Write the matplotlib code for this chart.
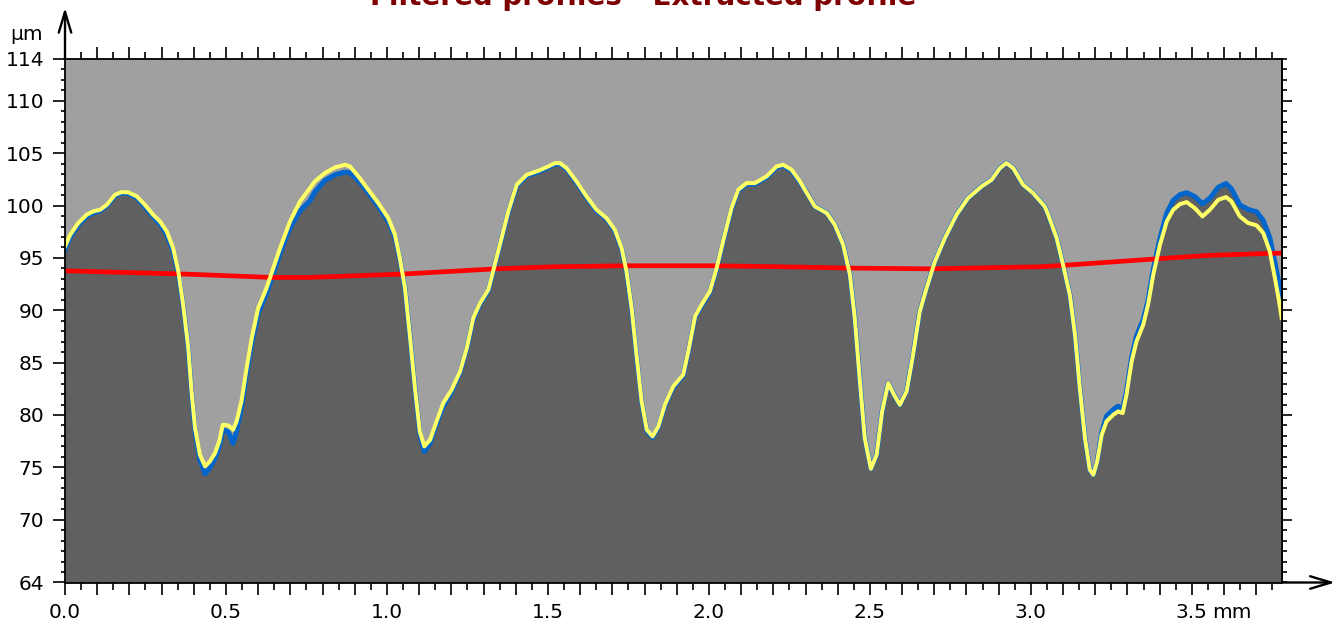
import matplotlib
matplotlib.use('Agg')
import matplotlib.pyplot as plt
from matplotlib.ticker import MultipleLocator, FixedLocator, FuncFormatter, NullFormatter

# profile positions (mm)
x_mm = [0.000, 0.016, 0.041, 0.067, 0.088, 0.109, 0.130, 0.155, 0.176, 0.197,
        0.223, 0.248, 0.274, 0.295, 0.316, 0.336, 0.352, 0.367, 0.383, 0.393,
        0.404, 0.419, 0.435, 0.450, 0.466, 0.479, 0.490, 0.507, 0.522, 0.533,
        0.548, 0.564, 0.580, 0.600, 0.626, 0.647, 0.668, 0.699, 0.730, 0.761,
        0.776, 0.807, 0.839, 0.870, 0.885, 0.911, 0.942, 0.973, 1.004, 1.025,
        1.040, 1.056, 1.071, 1.087, 1.102, 1.116, 1.134, 1.154, 1.175, 1.201,
        1.227, 1.248, 1.268, 1.289, 1.315, 1.335, 1.356, 1.377, 1.403, 1.434,
        1.470, 1.501, 1.522, 1.537, 1.558, 1.589, 1.620, 1.651, 1.682, 1.708,
        1.729, 1.744, 1.760, 1.775, 1.791, 1.807, 1.825, 1.843, 1.863, 1.889,
        1.920, 1.936, 1.957, 1.977, 2.003, 2.024, 2.044, 2.070, 2.091, 2.117,
        2.143, 2.179, 2.210, 2.231, 2.257, 2.283, 2.298, 2.329, 2.366, 2.391,
        2.417, 2.438, 2.453, 2.469, 2.484, 2.503, 2.521, 2.538, 2.557, 2.575,
        2.593, 2.614, 2.634, 2.655, 2.676, 2.702, 2.733, 2.769, 2.805, 2.847,
        2.878, 2.904, 2.924, 2.945, 2.976, 3.007, 3.043, 3.054, 3.080, 3.100,
        3.121, 3.137, 3.152, 3.168, 3.183, 3.194, 3.206, 3.220, 3.235, 3.256,
        3.271, 3.285, 3.297, 3.313, 3.328, 3.349, 3.364, 3.380, 3.401, 3.422,
        3.442, 3.463, 3.484, 3.509, 3.533, 3.556, 3.582, 3.606, 3.623, 3.649,
        3.675, 3.701, 3.722, 3.742, 3.758, 3.771, 3.779]

# extracted profile (yellow), um
extracted_um = [96.10, 97.21, 98.33, 99.12, 99.45, 99.60, 100.08, 101.03, 101.29, 101.26,
                100.88, 100.08, 99.12, 98.49, 97.54, 95.94, 93.72, 90.53, 86.39, 82.25,
                78.75, 76.20, 75.09, 75.57, 76.36, 77.48, 79.06, 79.01, 78.59, 79.39,
                81.30, 84.48, 87.34, 90.21, 92.12, 94.03, 95.94, 98.49, 100.40, 101.67,
                102.31, 103.10, 103.65, 103.90, 103.74, 102.79, 101.51, 100.24, 98.81, 97.21,
                94.99, 92.12, 87.66, 82.57, 78.43, 77.00, 77.63, 79.39, 81.14, 82.41,
                84.16, 86.39, 89.26, 90.69, 91.96, 94.35, 96.90, 99.45, 101.99, 102.94,
                103.32, 103.74, 104.06, 104.06, 103.58, 102.31, 100.88, 99.60, 98.81, 97.69,
                95.94, 93.72, 90.21, 85.75, 81.30, 78.59, 77.96, 78.91, 80.97, 82.73,
                83.84, 86.07, 89.42, 90.53, 91.81, 94.03, 96.58, 99.76, 101.51, 102.15,
                102.15, 102.79, 103.74, 103.90, 103.42, 102.31, 101.51, 99.92, 99.28, 98.17,
                96.26, 93.39, 89.26, 83.21, 77.79, 74.86, 76.20, 80.34, 83.05, 81.93,
                80.97, 82.25, 85.75, 89.89, 92.12, 94.67, 96.90, 99.12, 100.72, 101.83,
                102.46, 103.58, 104.06, 103.58, 101.99, 101.19, 99.92, 99.12, 96.90, 94.35,
                91.48, 87.66, 82.57, 77.79, 74.77, 74.29, 75.57, 78.11, 79.39, 80.02,
                80.34, 80.18, 81.93, 85.12, 87.03, 88.62, 90.53, 93.39, 96.26, 98.49,
                99.60, 100.14, 100.33, 99.76, 98.97, 99.60, 100.55, 100.81, 100.40, 98.97,
                98.33, 98.11, 97.37, 95.63, 93.08, 90.85, 89.26]

# filtered profile (blue), um
filtered_um = [95.80, 97.01, 98.13, 98.97, 99.30, 99.50, 99.98, 100.93, 101.19, 101.16,
               100.73, 99.88, 98.92, 98.24, 97.24, 95.64, 93.52, 90.43, 86.29, 82.05,
               78.45, 75.70, 74.39, 74.97, 75.86, 76.98, 78.56, 78.41, 77.29, 78.49,
               80.70, 83.98, 86.84, 89.71, 91.62, 93.53, 95.44, 97.89, 99.50, 100.47,
               101.31, 102.40, 102.95, 103.20, 103.14, 102.39, 101.21, 99.94, 98.51, 97.01,
               94.89, 92.07, 87.61, 82.52, 78.23, 76.50, 77.33, 79.19, 80.84, 82.21,
               84.06, 86.29, 89.16, 90.59, 91.86, 94.25, 96.80, 99.35, 101.89, 102.84,
               103.22, 103.64, 103.96, 103.96, 103.48, 102.21, 100.78, 99.50, 98.71, 97.59,
               95.84, 93.62, 90.11, 85.65, 81.20, 78.49, 77.86, 78.81, 80.87, 82.63,
               83.74, 85.97, 89.32, 90.43, 91.71, 93.93, 96.48, 99.66, 101.41, 102.05,
               102.05, 102.69, 103.64, 103.80, 103.32, 102.21, 101.51, 99.92, 99.28, 98.17,
               96.26, 93.39, 89.26, 83.21, 77.79, 74.86, 76.20, 80.34, 83.05, 81.93,
               80.97, 82.25, 85.75, 89.89, 92.12, 94.67, 96.90, 99.12, 100.72, 101.83,
               102.46, 103.58, 104.06, 103.58, 101.99, 101.19, 99.92, 99.12, 96.90, 94.35,
               91.48, 87.66, 82.57, 77.79, 74.77, 74.29, 75.57, 78.31, 79.89, 80.52,
               80.84, 80.58, 82.23, 85.52, 87.53, 89.12, 90.93, 93.89, 96.86, 99.29,
               100.50, 101.04, 101.23, 100.86, 100.17, 100.70, 101.75, 102.11, 101.60, 100.07,
               99.63, 99.41, 98.57, 96.93, 94.58, 92.45, 90.86]

# waviness line (red)
waviness_x = [0.00, 0.37, 0.64, 0.76, 1.05, 1.34, 1.51, 1.74, 2.02, 2.28,
              2.43, 2.69, 3.03, 3.10, 3.38, 3.55, 3.74, 3.78]
waviness_um = [93.77, 93.46, 93.14, 93.14, 93.46, 93.96, 94.15, 94.25, 94.25, 94.13,
               94.03, 93.96, 94.16, 94.29, 94.89, 95.24, 95.43, 95.46]

y_ticks = [64, 70, 75, 80, 85, 90, 95, 100, 105, 110, 114]
y_min, y_max = 64, 114
x_max = 3.78
title = 'Filtered profiles - Extracted profile'
fs = 14.5

W, H = 1342, 626
fig = plt.figure(figsize=(W / 100, H / 100), dpi=100)
ax = fig.add_axes([65 / W, 1 - 582.5 / H, 1217 / W, 523.5 / H])
ax.set_facecolor('#a0a0a0')

# fill under filtered profile, then lines
ax.fill_between(x_mm, filtered_um, y_min, color='#606060', lw=0)
ax.plot(x_mm, filtered_um, color='#0066cc', lw=3.6, solid_joinstyle='round')
ax.plot(waviness_x, waviness_um, color='#ff0000', lw=3.4)
ax.plot(x_mm, extracted_um, color='#ffff66', lw=2.9, solid_joinstyle='round')

ax.set_xlim(0, x_max)
ax.set_ylim(y_min, y_max)

for s in ax.spines.values():
    s.set_linewidth(1.3)
    s.set_color('black')

# x ticks: long every 0.1, short every 0.05, labels every 0.5
def xfmt(v, pos):
    if abs(v * 2 - round(v * 2)) < 1e-6:
        return '%.1f' % v
    return ''

ax.xaxis.set_major_locator(MultipleLocator(0.1))
ax.xaxis.set_minor_locator(MultipleLocator(0.05))
ax.xaxis.set_major_formatter(FuncFormatter(xfmt))
ax.tick_params(axis='x', which='major', direction='out', length=8.6, width=1.2,
               top=True, labelsize=fs, pad=6)
ax.tick_params(axis='x', which='minor', direction='out', length=4.8, width=1.2, top=True)

# y ticks left
ax.yaxis.set_major_locator(FixedLocator(y_ticks))
ax.yaxis.set_minor_locator(MultipleLocator(1))
ax.tick_params(axis='y', which='major', direction='out', length=8.4, width=1.2,
               labelsize=fs, pad=6.5)
ax.tick_params(axis='y', which='minor', direction='out', length=3.2, width=1.2)

# y ticks right
sec = ax.secondary_yaxis('right')
sec.yaxis.set_major_locator(MultipleLocator(10))
sec.yaxis.set_minor_locator(MultipleLocator(1))
sec.yaxis.set_major_formatter(NullFormatter())
sec.tick_params(which='major', direction='out', length=7.2, width=1.2)
sec.tick_params(which='minor', direction='out', length=3.6, width=1.2)
sec.spines['right'].set_linewidth(1.3)

# axis arrows
arrow = dict(arrowstyle='->,head_length=1.5,head_width=0.45', color='black', lw=1.7,
             mutation_scale=10, shrinkA=0, shrinkB=0)
ax.annotate('', xy=(0, 1.098), xytext=(0, 1), xycoords='axes fraction',
            arrowprops=arrow, annotation_clip=False)
ax.annotate('', xy=(1.0436, 0), xytext=(1, 0), xycoords='axes fraction',
            arrowprops=arrow, annotation_clip=False)

# units
ax.text(-0.0181, 1.0363, 'µm', transform=ax.transAxes, ha='right', va='baseline', fontsize=fs)
ax.text((1212 - 65) / 1217, -0.0684, 'mm', transform=ax.transAxes, ha='left',
        va='baseline', fontsize=fs)

# title sits partly above the figure edge, as in the source image
fig.text(643 / W, 1 - 5 / H, title, ha='center', va='baseline', fontsize=20,
         fontweight='bold', color='#7f0000')

fig.savefig('out.png', dpi=100)
